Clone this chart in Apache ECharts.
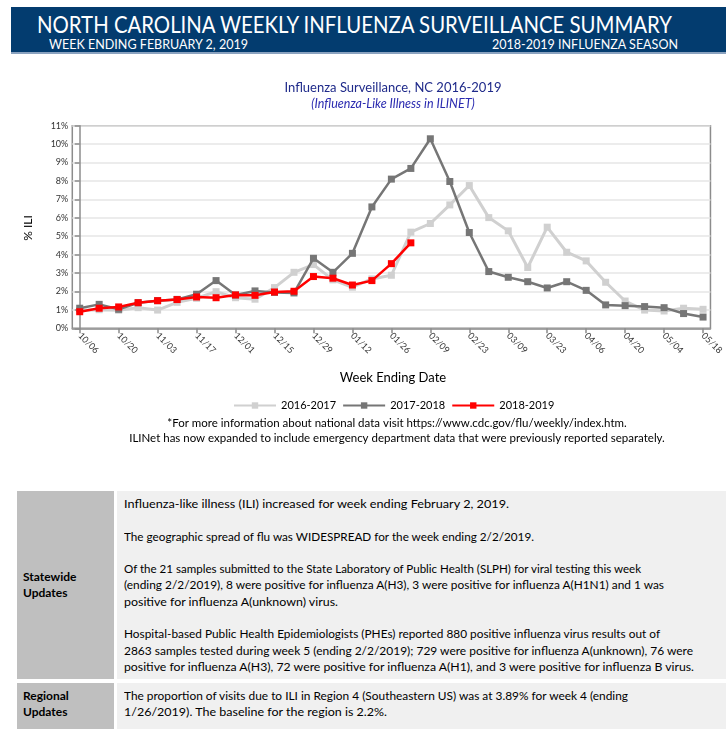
<!DOCTYPE html>
<html>
<head>
<meta charset="utf-8">
<script src="https://cdn.jsdelivr.net/npm/echarts@6.0.0/dist/echarts.min.js"></script>
<style>
  html, body { margin: 0; padding: 0; background: #fff; width: 726px; height: 729px; overflow: hidden; }
  body { position: relative; font-family: Lato, 'Open Sans', sans-serif; }
  #chart { position: absolute; left: 0; top: 0; width: 726px; height: 480px; }
  #band { position: absolute; left: 11px; top: 7px; width: 715px; height: 45px; background: #033c6f; border-bottom: 2px solid #8aa2bf; color: #fff; }
  #band div { position: absolute; white-space: nowrap; transform-origin: 0 0; }
  #band .t { left: 26px; top: 4px; font-size: 23px; line-height: 26px; }
  #band .s1 { left: 38px; top: 29px; font-size: 13.5px; line-height: 16px; }
  #band .s2 { left: 481px; top: 29px; font-size: 13.5px; line-height: 16px; }
  .cell { position: absolute; box-sizing: border-box; font-size: 12px; line-height: 16.3px; color: #000; white-space: nowrap; }
  .lab { background: #bfbfbf; font-weight: bold; padding-left: 6px; display: flex; flex-direction: column; justify-content: center; }
  .txt { background: #f0f0f0; padding-left: 7px; padding-top: 5px; }
</style>
</head>
<body>
<div id="band">
  <div class="t" data-w="635">NORTH CAROLINA WEEKLY INFLUENZA SURVEILLANCE SUMMARY</div>
  <div class="s1" data-w="199">WEEK ENDING FEBRUARY 2, 2019</div>
  <div class="s2" data-w="186">2018-2019 INFLUENZA SEASON</div>
</div>
<div id="chart"></div>
<div class="cell lab" style="left:17px;top:491px;width:97px;height:188px;">Statewide<br>Updates</div>
<div class="cell txt" style="left:117px;top:491px;width:609px;height:188px;"><span data-w="385">Influenza-like illness (ILI) increased for week ending February 2, 2019.</span><br><br><span data-w="410">The geographic spread of flu was WIDESPREAD for the week ending 2/2/2019.</span><br><br><span data-w="517">Of the 21 samples submitted to the State Laboratory of Public Health (SLPH) for viral testing this week</span><br><span data-w="540">(ending 2/2/2019), 8 were positive for influenza A(H3), 3 were positive for influenza A(H1N1) and 1 was</span><br><span data-w="214">positive for influenza A(unknown) virus.</span><br><br><span data-w="536">Hospital-based Public Health Epidemiologists (PHEs) reported 880 positive influenza virus results out of</span><br><span data-w="569">2863 samples tested during week 5 (ending 2/2/2019); 729 were positive for influenza A(unknown), 76 were</span><br><span data-w="570">positive for influenza A(H3), 72 were positive for influenza A(H1), and 3 were positive for influenza B virus.</span></div>
<div class="cell lab" style="left:17px;top:683px;width:97px;height:50px;justify-content:flex-start;padding-top:5px;">Regional<br>Updates</div>
<div class="cell txt" style="left:117px;top:683px;width:609px;height:50px;"><span data-w="504">The proportion of visits due to ILI in Region 4 (Southeastern US) was at 3.89% for week 4 (ending</span><br><span data-w="263">1/26/2019). The baseline for the region is 2.2%.</span></div>
<script>
const weeks = ['10/06','10/13','10/20','10/27','11/03','11/10','11/17','11/24','12/01','12/08','12/15','12/22','12/29','01/05','01/12','01/19','01/26','02/02','02/09','02/16','02/23','03/02','03/09','03/16','03/23','03/30','04/06','04/13','04/20','04/27','05/04','05/11','05/18'];
const s1617 = [0.98,1.01,0.98,1.12,0.99,1.41,1.63,1.99,1.66,1.58,2.21,3.04,3.46,2.63,2.23,2.68,2.88,5.22,5.69,6.70,7.75,6.01,5.29,3.30,5.49,4.13,3.66,2.50,1.48,0.99,0.94,1.09,1.03];
const s1718 = [1.09,1.30,1.03,1.39,1.50,1.57,1.85,2.59,1.81,2.03,1.95,1.92,3.80,3.04,4.07,6.59,8.10,8.68,10.29,7.97,5.20,3.08,2.77,2.53,2.19,2.53,2.06,1.27,1.23,1.18,1.12,0.80,0.61];
const s1819 = [0.90,1.09,1.16,1.39,1.50,1.56,1.70,1.66,1.81,1.79,1.97,2.01,2.81,2.72,2.35,2.59,3.51,4.64];
const seriesNames = ['2016-2017','2017-2018','2018-2019'];
const yTicks = [0,1,2,3,4,5,6,7,8,9,10,11];

// fit HTML text runs to the reference widths
document.querySelectorAll('[data-w]').forEach(el => {
  if (el.tagName === 'SPAN') el.style.display = 'inline-block';
  const w = el.getBoundingClientRect().width;
  const target = +el.dataset.w;
  if (w > 0) { el.style.transformOrigin = '0 0'; el.style.transform = 'scaleX(' + (target / w).toFixed(4) + ')'; }
});

const FONT = "Lato,'Open Sans',sans-serif";
const labelIdx = weeks.map((w, i) => i).filter(i => i % 2 === 0);
const pairs = arr => arr.map((v, i) => [i, v]);

const chart = echarts.init(document.getElementById('chart'), null, { renderer: 'canvas' });
chart.setOption({
  animation: false,
  textStyle: { fontFamily: FONT },
  grid: { left: 72.3, right: 13.3, top: 125.7, bottom: 151.7, show: true, borderColor: '#8c8c8c', borderWidth: 1.5, backgroundColor: 'transparent' },
  legend: {
    left: 228, top: 395, itemWidth: 42, itemHeight: 8, itemGap: 6,
    textStyle: { fontSize: 11, color: '#000', fontFamily: FONT },
    data: seriesNames
  },
  xAxis: {
    type: 'value', min: -0.38, max: weeks.length - 1 + 0.38,
    axisLine: { show: true, lineStyle: { color: '#8c8c8c', width: 1.5 } },
    axisTick: { show: true, customValues: labelIdx, length: 5, lineStyle: { color: '#8c8c8c', width: 1.5 } },
    axisLabel: { customValues: labelIdx, rotate: -45, fontSize: 9, color: '#333', margin: 6, fontFamily: FONT,
      formatter: v => weeks[Math.round(v)] },
    splitLine: { show: false }
  },
  yAxis: {
    type: 'value', min: yTicks[0], max: yTicks[yTicks.length - 1], interval: 1,
    axisLine: { show: true, lineStyle: { color: '#8c8c8c', width: 1.5 } },
    axisTick: { show: true, length: 5, lineStyle: { color: '#8c8c8c', width: 1.5 } },
    axisLabel: { formatter: '{value}%', fontSize: 9, color: '#333', margin: 4, fontFamily: FONT },
    splitLine: { show: true, lineStyle: { color: '#e6e6e6', width: 1.5 } }
  },
  series: [
    { name: seriesNames[0], type: 'line', data: pairs(s1617), symbol: 'rect', symbolSize: 7,
      lineStyle: { color: '#d0d0d0', width: 3 }, itemStyle: { color: '#d0d0d0' }, z: 2 },
    { name: seriesNames[1], type: 'line', data: pairs(s1718), symbol: 'rect', symbolSize: 7,
      lineStyle: { color: '#767676', width: 2.5 }, itemStyle: { color: '#767676' }, z: 3 },
    { name: seriesNames[2], type: 'line', data: pairs(s1819), symbol: 'rect', symbolSize: 7,
      lineStyle: { color: '#ff0000', width: 2.5 }, itemStyle: { color: '#ff0000' }, z: 4 }
  ],
  graphic: [
    { type: 'text', x: 393, y: 88, style: { text: 'Influenza Surveillance, NC 2016-2019', align: 'center', verticalAlign: 'middle', font: "13px " + FONT, fill: '#1f2a8a' } },
    { type: 'text', x: 393, y: 104, style: { text: '(Influenza-Like Illness in ILINET)', align: 'center', verticalAlign: 'middle', font: "italic 12.5px " + FONT, fill: '#2a2ab0' } },
    { type: 'text', x: 28, y: 228, rotation: Math.PI / 2, style: { text: '% ILI', align: 'center', verticalAlign: 'middle', font: "12px " + FONT, fill: '#000' } },
    { type: 'text', x: 393, y: 378, style: { text: 'Week Ending Date', align: 'center', verticalAlign: 'middle', font: "13px " + FONT, fill: '#000' } },
    { type: 'text', x: 397, y: 423, style: { text: '*For more information about national data visit https://www.cdc.gov/flu/weekly/index.htm.', align: 'center', verticalAlign: 'middle', font: "11.5px " + FONT, fill: '#000' } },
    { type: 'text', x: 397, y: 438, style: { text: 'ILINet has now expanded to include emergency department data that were previously reported separately.', align: 'center', verticalAlign: 'middle', font: "11.5px " + FONT, fill: '#000' } }
  ]
});
</script>
</body>
</html>
